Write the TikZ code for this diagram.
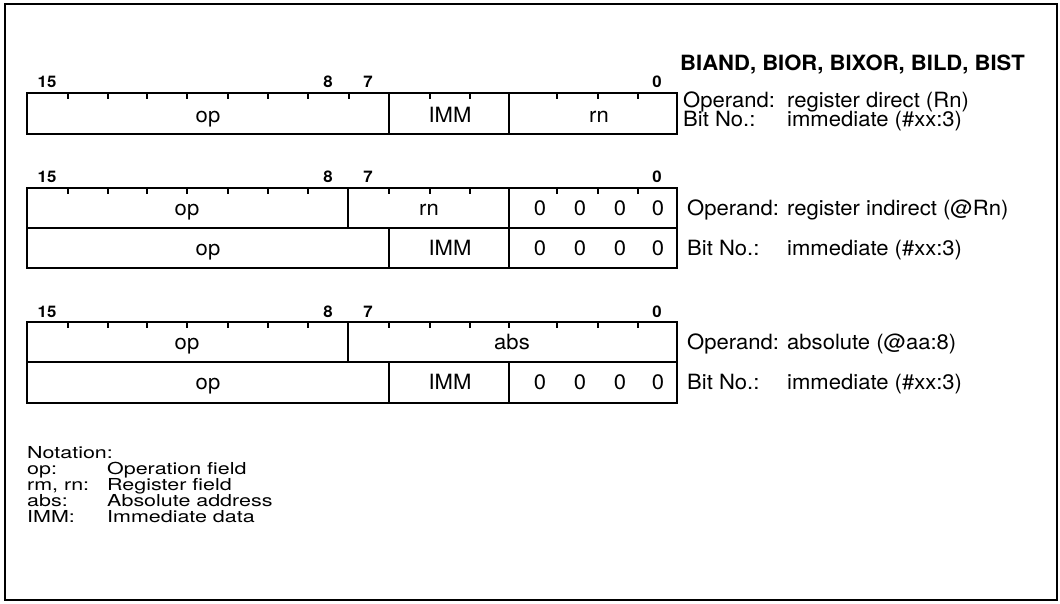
\documentclass[tikz,border=0pt]{standalone}
\usepackage{fontspec}
\newfontfamily\lab[FakeStretch=1.05]{TeX Gyre Heros}
\newfontfamily\notefont[FakeStretch=1.3]{TeX Gyre Heros}
\begin{document}
\begin{tikzpicture}[x=1pt,y=-1pt,line join=miter,
  frame/.style={line width=2pt},
  fld/.style={line width=1.5pt},
  tk/.style={line width=1.2pt},
  txt/.style={font=\lab\fontsize{21}{21}\selectfont,inner sep=0pt},
  lbl/.style={txt,anchor=base west},
  bitno/.style={font=\lab\bfseries\fontsize{16}{16}\selectfont,inner sep=0pt},
  ttl/.style={font=\lab\bfseries\fontsize{21}{21}\selectfont,inner sep=0pt,anchor=base west},
  note/.style={font=\notefont\fontsize{16.5}{16.5}\selectfont,inner sep=0pt,anchor=base west}]
\useasboundingbox (0,0) rectangle (1060,603);
\draw[frame] (5,4) rectangle (1057,600);

% title
\node[ttl] (title) at (680,70) {BIAND, BIOR, BIXOR, BILD, BIST};

% ---------- format 1 ----------
\node[bitno] (a15) at (47,82) {15};
\node[bitno] (a8) at (328,82) {8};
\node[bitno] (a7) at (368,82) {7};
\node[bitno] (a0) at (657,82) {0};
\draw[fld] (27,93) rectangle (677,134);
\draw[fld] (389,93) -- (389,134) (509,93) -- (509,134);
\foreach \x in {68,108,147,187,228,268,308,349,430,470,557,598,638}
  \draw[tk] (\x,93) -- (\x,99);
\node[txt,anchor=base] (aop) at (208,122) {op};
\node[txt,anchor=base] (aimm) at (450,122) {IMM};
\node[txt,anchor=base] (arn) at (599,122) {rn};
\node[lbl] (aopk) at (683,107) {Operand:};
\node[lbl] (aopv) at (787,107) {register direct (Rn)};
\node[lbl] (abk) at (683,126) {Bit No.:};
\node[lbl] (abv) at (787,126) {immediate (\#xx:3)};

% ---------- format 2 ----------
\node[bitno] (b15) at (47,177) {15};
\node[bitno] (b8) at (328,177) {8};
\node[bitno] (b7) at (368,177) {7};
\node[bitno] (b0) at (657,177) {0};
\draw[fld] (27,188) rectangle (677,268);
\draw[fld] (27,228) -- (677,228);
\draw[fld] (348,188) -- (348,228) (509,188) -- (509,268) (389,228) -- (389,268);
\foreach \x in {68,108,147,187,228,268,308,389,430,470,557,598,638}
  \draw[tk] (\x,188) -- (\x,194);
\node[txt,anchor=base] (bop1) at (187,215) {op};
\node[txt,anchor=base] (brn) at (429,215) {rn};
\node[txt,anchor=base] (bop2) at (208,255) {op};
\node[txt,anchor=base] (bimm) at (450,255) {IMM};
\foreach \x/\n in {540/1,580/2,620/3,658/4}{
  \node[txt,anchor=base] (bz\n) at (\x,215) {0};
  \node[txt,anchor=base] (by\n) at (\x,255) {0};
}
\node[lbl] (bopk) at (687,215) {Operand:};
\node[lbl] (bopv) at (787,215) {register indirect (@Rn)};
\node[lbl] (bbk) at (687,255) {Bit No.:};
\node[lbl] (bbv) at (787,255) {immediate (\#xx:3)};

% ---------- format 3 ----------
\node[bitno] (c15) at (47,312) {15};
\node[bitno] (c8) at (328,312) {8};
\node[bitno] (c7) at (368,312) {7};
\node[bitno] (c0) at (657,312) {0};
\draw[fld] (27,322) rectangle (677,403);
\draw[fld] (27,362) -- (677,362);
\draw[fld] (348,322) -- (348,362) (389,362) -- (389,403) (509,362) -- (509,403);
\foreach \x in {68,108,147,187,228,268,308,389,430,470,509,557,598,638}
  \draw[tk] (\x,322) -- (\x,328);
\node[txt,anchor=base] (cop1) at (187,349) {op};
\node[txt,anchor=base] (cabs) at (512,349) {abs};
\node[txt,anchor=base] (cop2) at (208,389) {op};
\node[txt,anchor=base] (cimm) at (450,389) {IMM};
\foreach \x/\n in {540/1,580/2,620/3,658/4}
  \node[txt,anchor=base] (cy\n) at (\x,389) {0};
\node[lbl] (copk) at (687,349) {Operand:};
\node[lbl] (copv) at (787,349) {absolute (@aa:8)};
\node[lbl] (cbk) at (687,389) {Bit No.:};
\node[lbl] (cbv) at (787,389) {immediate (\#xx:3)};

% ---------- notation ----------
\node[note] (n0) at (27,458) {Notation:};
\node[note] (n1k) at (27,474) {op:};
\node[note] (n1v) at (107,474) {Operation field};
\node[note] (n2k) at (27,490) {rm, rn:};
\node[note] (n2v) at (107,490) {Register field};
\node[note] (n3k) at (27,506) {abs:};
\node[note] (n3v) at (107,506) {Absolute address};
\node[note] (n4k) at (27,522) {IMM:};
\node[note] (n4v) at (107,522) {Immediate data};
\end{tikzpicture}
\end{document}
